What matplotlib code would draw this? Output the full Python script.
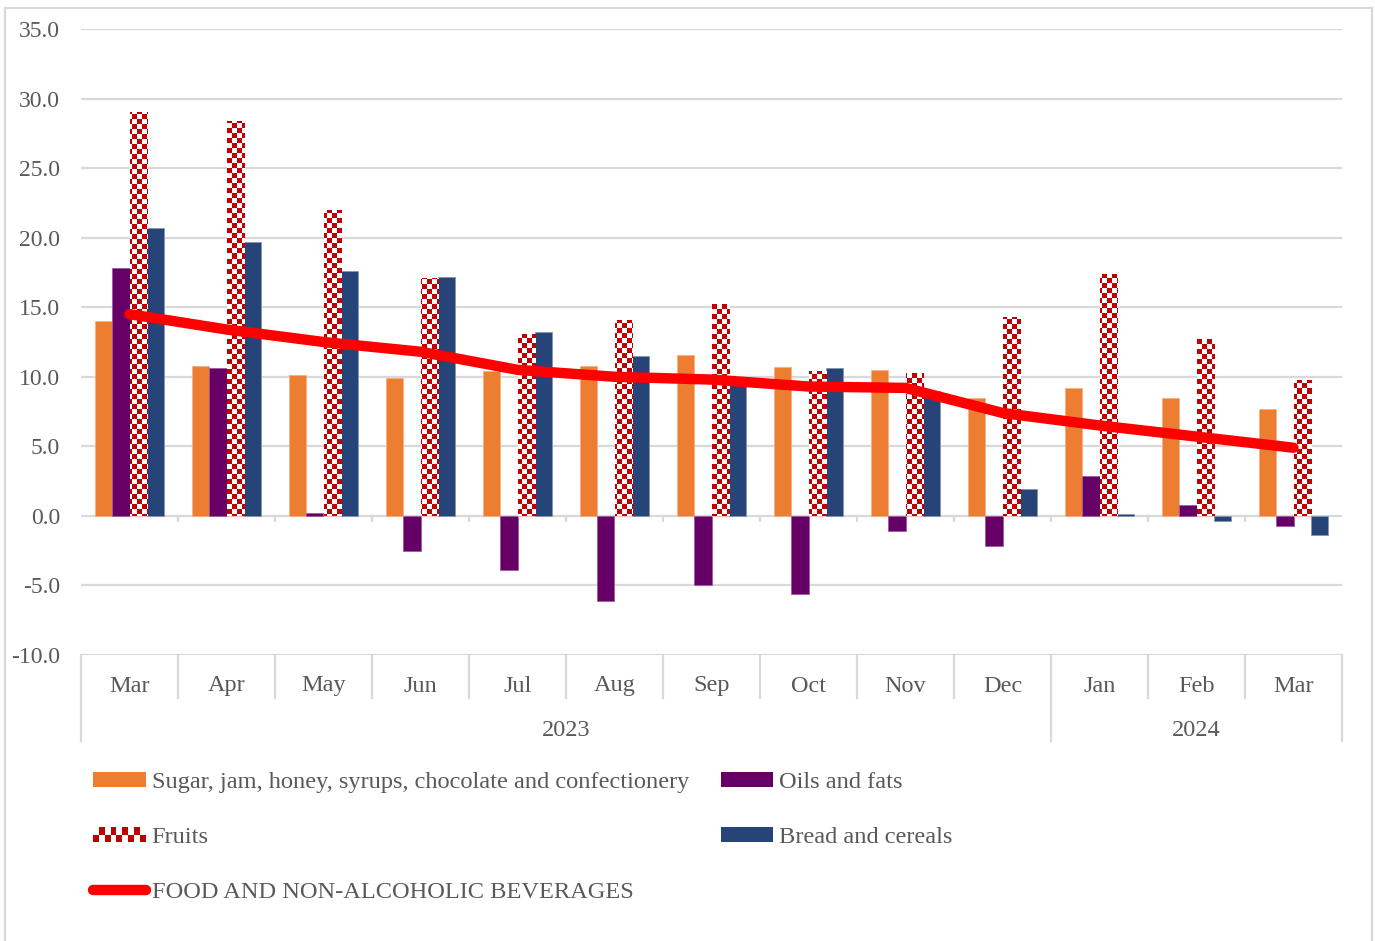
import numpy as np
import matplotlib
matplotlib.use("Agg")
from matplotlib import pyplot as plt
from matplotlib import transforms
from matplotlib.lines import Line2D
from matplotlib.patches import Patch, Rectangle
from matplotlib.legend_handler import HandlerPatch

months = ["Mar", "Apr", "May", "Jun", "Jul", "Aug", "Sep", "Oct", "Nov", "Dec", "Jan", "Feb", "Mar"]
years = ["2023", "2024"]
year_spans = [(0, 9), (10, 12)]

sugar = [14.0, 10.8, 10.1, 9.9, 10.4, 10.8, 11.6, 10.7, 10.5, 8.5, 9.2, 8.5, 7.7]
oils = [17.8, 10.6, 0.2, -2.5, -3.9, -6.1, -5.0, -5.6, -1.1, -2.2, 2.9, 0.8, -0.7]
fruits = [29.0, 28.4, 22.0, 17.1, 13.1, 14.1, 15.2, 10.4, 10.3, 14.3, 17.4, 12.7, 9.8]
bread = [20.7, 19.7, 17.6, 17.2, 13.2, 11.5, 9.5, 10.6, 9.0, 1.9, 0.15, -0.4, -1.4]
food = [14.5, 13.4, 12.5, 11.8, 10.5, 10.0, 9.8, 9.3, 9.2, 7.4, 6.5, 5.7, 4.9]

ORANGE = "#ED7D31"
PURPLE = "#660066"
RED = "#C00000"
BLUE = "#264478"
TEXT = "#595959"
GRID = "#D9D9D9"

plt.rcParams["font.family"] = ["Liberation Serif", "DejaVu Serif"]
plt.rcParams["font.size"] = 17

W, H = 1375, 941
fig = plt.figure(figsize=(W / 100, H / 100), dpi=100)
ax_left, ax_right, ax_top, ax_bottom = 81, 1342, 29, 655
ax = fig.add_axes([ax_left / W, 1 - ax_bottom / H, (ax_right - ax_left) / W, (ax_bottom - ax_top) / H])

x = np.arange(len(months))
w = 0.18
ymin, ymax = -10, 35

ax.bar(x - 1.5 * w, sugar, w, color=ORANGE, edgecolor="#F4B183", linewidth=0.6, zorder=2)
ax.bar(x - 0.5 * w, oils, w, color=PURPLE, edgecolor="#A05AA0", linewidth=0.6, zorder=2)
fruit_bars = ax.bar(x + 0.5 * w, fruits, w, color="white", edgecolor="#F2B8B8", linewidth=0.6, zorder=2)
ax.bar(x + 1.5 * w, bread, w, color=BLUE, edgecolor="#8497B0", linewidth=0.6, zorder=2)
ax.plot(x, food, color="#FF0000", linewidth=7.5, solid_capstyle="round", solid_joinstyle="round", zorder=4)

ax.set_xlim(-0.5, len(months) - 0.5)
ax.set_ylim(ymin, ymax)

# checkerboard fill for the fruit bars, 5px squares clipped to each bar
pw, ph = ax_right - ax_left, ax_bottom - ax_top
jj, ii = np.meshgrid(np.arange(pw), np.arange(ph))
mask = ((ii // 5 + jj // 5) % 2).astype(bool)
img = np.ones((ph, pw, 3))
img[mask] = matplotlib.colors.to_rgb(RED)
for bar in fruit_bars:
    im = ax.imshow(img, extent=(-0.5, len(months) - 0.5, ymin, ymax), aspect="auto",
                   interpolation="nearest", zorder=2.5)
    im.set_clip_path(bar)
ax.set_xlim(-0.5, len(months) - 0.5)
ax.set_ylim(ymin, ymax)

for s in ax.spines.values():
    s.set_visible(False)
ax.set_yticks(np.arange(ymin, ymax + 1, 5))
ax.set_yticklabels([f"{v:.1f}" for v in np.arange(ymin, ymax + 1, 5)])
ax.tick_params(axis="y", length=0, pad=15, colors=TEXT, labelsize=17)
ax.set_xticks([])
ax.yaxis.grid(True, color=GRID, linewidth=1.6)
ax.set_axisbelow(True)

# small ticks on the zero line between categories
bounds = np.arange(-0.5, len(months), 1.0)
ax.vlines(bounds[1:-1], -0.45, 0, color=GRID, linewidth=1.6, zorder=1)

# two-level category axis below the plot
trans = transforms.blended_transform_factory(ax.transData, ax.transAxes)
short_y = -43 / ph
long_y = -86 / ph
year_edges = {-0.5, 9.5, len(months) - 0.5}
for b in bounds:
    ax.plot([b, b], [0, long_y if b in year_edges else short_y], color=GRID,
            linewidth=1.6, transform=trans, clip_on=False)
for xi, m in zip(x, months):
    ax.text(xi, -31 / ph, m, transform=trans, ha="center", va="center", color=TEXT, fontsize=17.5)
for (a, b), yr in zip(year_spans, years):
    ax.text((a + b) / 2, -75 / ph, yr, transform=trans, ha="center", va="center", color=TEXT, fontsize=17.5)


class CheckerHandler(HandlerPatch):
    def create_artists(self, legend, orig_handle, xdescent, ydescent, width, height, fontsize, trans):
        artists = [Rectangle((-xdescent, -ydescent), width, height, facecolor="white",
                             edgecolor="none", transform=trans)]
        ncol, nrow = 9, 2
        cw, ch = width / ncol, height / nrow
        for r in range(nrow):
            for c in range(ncol):
                if (r + c) % 2 == 0:
                    artists.append(Rectangle((-xdescent + c * cw, -ydescent + r * ch), cw, ch,
                                             facecolor=RED, edgecolor="none", transform=trans))
        return artists


fruit_handle = Patch(facecolor="white")
handles = [
    Patch(facecolor=ORANGE),
    fruit_handle,
    Line2D([], [], color="#FF0000", linewidth=7.5, solid_capstyle="round"),
    Patch(facecolor=PURPLE),
    Patch(facecolor=BLUE),
]
labels = [
    "Sugar, jam, honey, syrups, chocolate and confectionery",
    "Fruits",
    "FOOD AND NON-ALCOHOLIC BEVERAGES",
    "Oils and fats",
    "Bread and cereals",
]
leg = fig.legend(handles, labels, loc="upper left", bbox_to_anchor=(93 / W, 1 - 772 / H),
                 ncol=2, frameon=False, fontsize=17.6, handlelength=2.15, handleheight=0.55,
                 handletextpad=0.25, columnspacing=1.3, labelspacing=1.4, borderpad=0,
                 borderaxespad=0, handler_map={fruit_handle: CheckerHandler()})
for t in leg.get_texts():
    t.set_color(TEXT)

# light frame around the chart area
for xs, ys in [([5, 5], [8, H]), ([5, 1372], [8, 8]), ([1372, 1372], [8, H])]:
    fig.add_artist(Line2D([v / W for v in xs], [1 - v / H for v in ys], color=GRID,
                          linewidth=1.6, transform=fig.transFigure))

fig.savefig("out.png", dpi=100, facecolor="white")
